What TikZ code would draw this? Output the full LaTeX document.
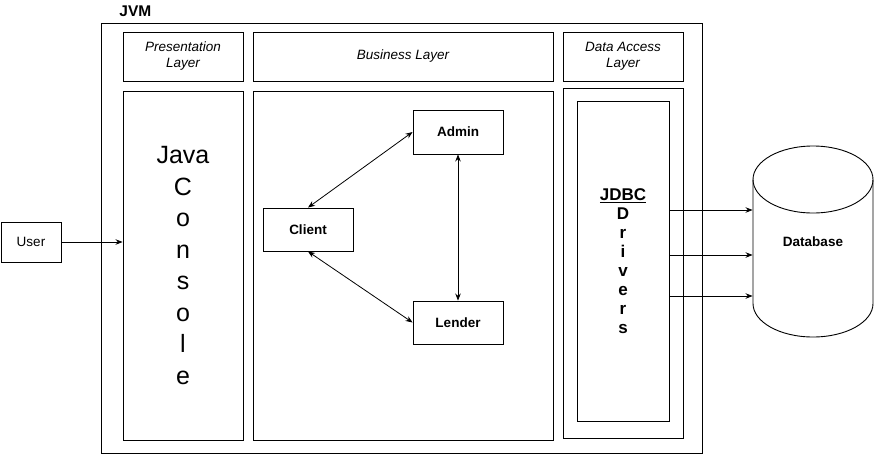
\documentclass[tikz,border=0pt]{standalone}
\usepackage{fontspec}
\setmainfont{Liberation Sans}
\usetikzlibrary{arrows.meta}
\begin{document}
\begin{tikzpicture}[x=1pt,y=-1pt,line width=0.9pt,
box/.style={draw, inner sep=0pt, align=center, font=\fontsize{13.5}{16}\selectfont},
layer/.style={box, font=\fontsize{13.5}{16}\selectfont\itshape},
comp/.style={box, minimum width=90, font=\fontsize{13.5}{16}\selectfont\bfseries},
arr/.style={-{Stealth[length=7pt,width=5.5pt]}, line width=0.8pt},
biarr/.style={{Stealth[length=7pt,width=5.5pt]}-{Stealth[length=7pt,width=5.5pt]}, line width=0.8pt}]
\useasboundingbox (0,0) rectangle (876,456);
\node[box, minimum width=601, minimum height=430] (jvm) at (401.5,238) {};
\node[anchor=base west, inner sep=0pt, font=\fontsize{15.5}{18}\selectfont\bfseries] (jvmlabel) at (119,16.7) {JVM};
\node[layer, minimum width=120, minimum height=49] (presHead) at (183,56.5) {Presentation\\Layer};
\node[layer, minimum width=300, minimum height=49] (busHead) at (403,56.5) {Business Layer};
\node[layer, minimum width=120, minimum height=49] (dataHead) at (623,56.5) {Data Access\\Layer};
\node[box, minimum width=120, minimum height=349, font=\fontsize{25}{31.5}\selectfont] (presBody) at (183,265.5) {Java\\C\\o\\n\\s\\o\\l\\e};
\node[box, minimum width=300, minimum height=349] (busBody) at (403,265.5) {};
\node[box, minimum width=120, minimum height=350] (dataBody) at (623,263) {};
\node[box, minimum width=92, minimum height=320, font=\fontsize{17}{19}\selectfont\bfseries] (jdbc) at (623,261) {\underline{JDBC}\\D\\r\\i\\v\\e\\r\\s};
\node[box, minimum width=60, minimum height=40] (user) at (31,242) {User};
\node[comp, minimum height=44] (admin) at (458,132) {Admin};
\node[comp, minimum height=43] (client) at (308,229.5) {Client};
\node[comp, minimum height=43] (lender) at (458,322.5) {Lender};
\node[box, draw=none, minimum width=120, minimum height=191, font=\fontsize{13.5}{16}\selectfont\bfseries] (db) at (813,241.5) {Database};
\draw (753,179.5) -- (753,303.5) arc[start angle=180, end angle=0, x radius=60, y radius=33.5] -- (873,179.5);
\draw (813,179.5) ellipse [x radius=60, y radius=33.5];
\draw[arr] (user) -- (user -| presBody.west);
\draw[biarr] (client.north) -- (admin.west);
\draw[biarr] (client.south) -- (lender.west);
\draw[biarr] (admin.south) -- (lender.north);
\foreach \y in {210,255,296}
  \draw[arr] (jdbc.east |- 0,\y) -- (db.west |- 0,\y);
\end{tikzpicture}
\end{document}
